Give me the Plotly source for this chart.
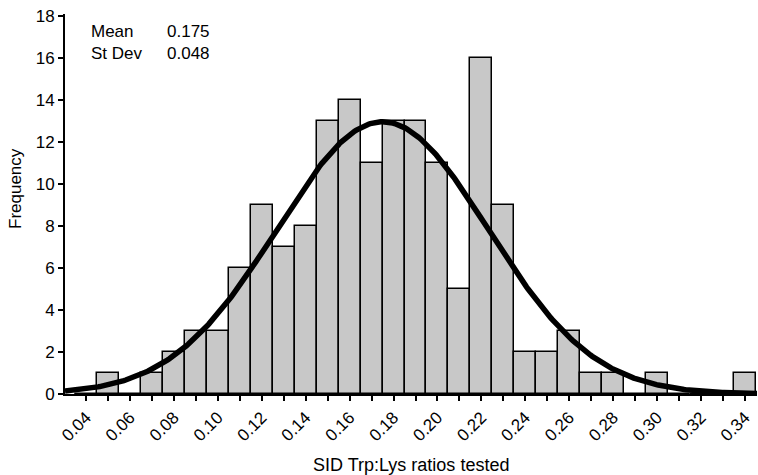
import numpy as np
import plotly.graph_objects as go

# Bin centers (SID Trp:Lys ratio) and observed frequencies
bin_centers = [0.04, 0.05, 0.06, 0.07, 0.08, 0.09, 0.10, 0.11, 0.12, 0.13, 0.14,
               0.15, 0.16, 0.17, 0.18, 0.19, 0.20, 0.21, 0.22, 0.23, 0.24, 0.25,
               0.26, 0.27, 0.28, 0.29, 0.30, 0.31, 0.32, 0.33, 0.34]
frequency = [0, 1, 0, 1, 2, 3, 3, 6, 9, 7, 8,
             13, 14, 11, 13, 13, 11, 5, 16, 9, 2, 2,
             3, 1, 1, 0, 1, 0, 0, 0, 1]
tick_labels = ["0.04", "", "0.06", "", "0.08", "", "0.10", "", "0.12", "", "0.14",
               "", "0.16", "", "0.18", "", "0.20", "", "0.22", "", "0.24", "",
               "0.26", "", "0.28", "", "0.30", "", "0.32", "", "0.34"]
y_ticks = [0, 2, 4, 6, 8, 10, 12, 14, 16, 18]

stat_names = ["Mean", "St Dev"]
stat_values = ["0.175", "0.048"]
mean_val = 0.175
sd_val = 0.048
bin_width = 0.01
n_obs = sum(frequency)

x_min, x_max = 0.0304, 0.3455

# Fitted normal curve scaled to counts
xc = np.linspace(x_min, x_max, 400)
yc = n_obs * bin_width / (sd_val * np.sqrt(2 * np.pi)) * np.exp(-0.5 * ((xc - mean_val) / sd_val) ** 2)

font = "Liberation Sans, Arial, sans-serif"

fig = go.Figure()
fig.add_trace(go.Bar(
    x=bin_centers, y=frequency, width=bin_width,
    marker=dict(color="#c8c8c8", line=dict(color="black", width=1.5)),
    showlegend=False, hoverinfo="x+y",
))
fig.add_trace(go.Scatter(
    x=xc, y=yc, mode="lines", line=dict(color="black", width=5.5),
    showlegend=False, hoverinfo="skip",
))

# Stats box (two columns)
fig.add_annotation(x=(89 - 65) / 692, y=1, xref="paper", yref="paper", xanchor="left", yanchor="top",
                   yshift=-6, align="left", showarrow=False,
                   text="<br>".join(stat_names),
                   font=dict(family=font, size=17, color="black"))
fig.add_annotation(x=(165 - 65) / 692, y=1, xref="paper", yref="paper", xanchor="left", yanchor="top",
                   yshift=-6, align="left", showarrow=False,
                   text="<br>".join(stat_values),
                   font=dict(family=font, size=17, color="black"))

# Axis titles
fig.add_annotation(x=0.5, y=(394 - 465) / 380, xref="paper", yref="paper",
                   xanchor="center", yanchor="middle", showarrow=False,
                   text="SID Trp:Lys ratios tested",
                   font=dict(family=font, size=18, color="black"))
fig.add_annotation(x=(15 - 65) / 692, y=(394 - 188) / 380, xref="paper", yref="paper",
                   xanchor="center", yanchor="middle", showarrow=False, textangle=-90,
                   text="Frequency",
                   font=dict(family=font, size=17, color="black"))

fig.update_layout(
    width=758, height=475,
    margin=dict(l=65, r=1, t=14, b=81, autoexpand=False),
    plot_bgcolor="white", paper_bgcolor="white",
    bargap=0,
    font=dict(family=font, size=16, color="black"),
    xaxis=dict(
        range=[x_min, x_max], tickvals=bin_centers, ticktext=tick_labels,
        tickangle=-45, ticks="outside", ticklen=5, tickwidth=1.5, tickcolor="black",
        showline=True, linecolor="black", linewidth=2, showgrid=False, zeroline=False,
        automargin=False, tickfont=dict(size=17),
    ),
    yaxis=dict(
        range=[0, 18.1], tickvals=y_ticks, ticks="outside", ticklen=5, tickwidth=1.5,
        tickcolor="black", showline=True, linecolor="black", linewidth=2,
        showgrid=False, zeroline=False, automargin=False,
        tickfont=dict(size=17),
    ),
)

fig.write_html("out.html", config={"displayModeBar": False},
               post_script="document.body.style.margin='0';document.body.style.overflow='hidden';")
